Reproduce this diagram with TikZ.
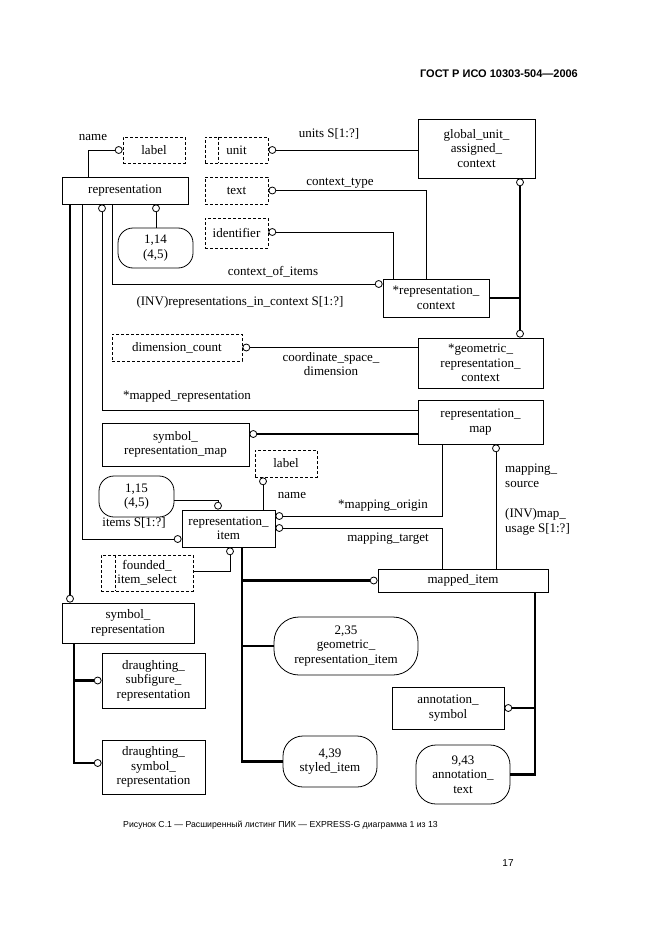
\documentclass[tikz,border=0pt]{standalone}
\usepackage{fontspec}
\setmainfont{Liberation Serif}
\newfontfamily\sansf{Liberation Sans}
\newcommand\dfont{\fontsize{13}{14.5}\selectfont}
\begin{document}
\begin{tikzpicture}[x=1pt,y=-1pt,
  tl/.style={line width=0.8pt},
  tk/.style={line width=2.4pt},
  dsh/.style={line width=0.8pt,dash pattern=on 3pt off 2pt},
  ent/.style={draw,line width=0.8pt,inner sep=0pt,align=center,font=\dfont},
  dent/.style={ent,dash pattern=on 3pt off 2pt},
  rent/.style={ent,rounded corners=#1},
  oc/.style={circle,draw,fill=white,line width=0.8pt,inner sep=0pt,minimum size=7pt},
  lab/.style={font=\dfont,inner sep=0pt,align=center}]
\fill[white] (0,0) rectangle (661,936);
\useasboundingbox (0,0) rectangle (661,936);

% entities
\node[dent,minimum width=62pt,minimum height=26pt] (lab1) at (154,150) {label};
\node[ent,minimum width=126pt,minimum height=27pt] (rep) at (125,190.5) {representation};
\node[dent,minimum width=63pt,minimum height=26pt] (unit) at (236.5,150) {unit};
\draw[dsh] (218,0 |- unit.north) -- (218,0 |- unit.south);
\node[dent,minimum width=63pt,minimum height=27pt] (txt) at (236.5,190.5) {text};
\node[dent,minimum width=63pt,minimum height=30pt] (ident) at (236.5,233) {identifier};
\node[ent,minimum width=117pt,minimum height=59pt] (gua) at (476.5,148.5) {global\_unit\_\\assigned\_\\context};
\node[rent=15pt,minimum width=75pt,minimum height=40pt] (r14) at (155.5,248) {1,14\\(4,5)};
\node[ent,minimum width=106pt,minimum height=38pt] (rctx) at (436,298) {*representation\_\\context};
\node[dent,minimum width=130pt,minimum height=27pt] (dimc) at (177,347.5) {dimension\_count};
\node[ent,minimum width=125pt,minimum height=50pt] (gctx) at (480.5,363) {*geometric\_\\representation\_\\context};
\node[ent,minimum width=125pt,minimum height=44pt] (rmap) at (480.5,422) {representation\_\\map};
\node[ent,minimum width=147pt,minimum height=43pt] (srm) at (175.5,444.5) {symbol\_\\representation\_map};
\node[dent,minimum width=62pt,minimum height=27pt] (lab2) at (286,463.5) {label};
\node[rent=15pt,minimum width=75pt,minimum height=41pt] (r15) at (136.5,496.5) {1,15\\(4,5)};
\node[ent,minimum width=93pt,minimum height=37pt] (ritem) at (228.5,528.5) {representation\_\\item};
\node[dent,minimum width=92pt,minimum height=36pt] (fis) at (147,573) {founded\_\\item\_select};
\draw[dsh] (115,0 |- fis.north) -- (115,0 |- fis.south);
\node[ent,minimum width=170pt,minimum height=23pt] (mitem) at (463,580.5) {mapped\_item};
\node[rent=25pt,minimum width=144pt,minimum height=58pt] (r235) at (346,646) {2,35\\geometric\_\\representation\_item};
\node[ent,minimum width=112pt,minimum height=42pt] (asym) at (448,708) {annotation\_\\symbol};
\node[rent=20pt,minimum width=94pt,minimum height=51pt] (r439) at (330,761.5) {4,39\\styled\_item};
\node[rent=20pt,minimum width=94pt,minimum height=59pt] (r943) at (463,774.5) {9,43\\annotation\_\\text};
\node[ent,minimum width=132pt,minimum height=40pt] (srep) at (128,623) {symbol\_\\representation};
\node[ent,minimum width=103pt,minimum height=55pt] (dsub) at (153.5,680.5) {draughting\_\\subfigure\_\\representation};
\node[ent,minimum width=103pt,minimum height=54pt] (dsym) at (153.5,767) {draughting\_\\symbol\_\\representation};

% circles
\node[oc,anchor=east] (o1) at (lab1.west) {};
\node[oc,anchor=west] (o2) at (unit.east) {};
\node[oc,anchor=north] (o3) at (520,0 |- gua.south) {};
\node[oc,anchor=south] (o4) at (520,0 |- gctx.north) {};
\node[oc,anchor=west] (o5) at (txt.east) {};
\node[oc,anchor=west] (o6) at (ident.east |- 0,232) {};
\node[oc,anchor=north] (o7) at (102,0 |- rep.south) {};
\node[oc,anchor=east] (o8) at (rctx.west |- 0,284) {};
\node[oc,anchor=north] (o9) at (156,0 |- rep.south) {};
\node[oc,anchor=west] (o10) at (dimc.east) {};
\node[oc,anchor=west] (o11) at (srm.east |- 0,434) {};
\node[oc,anchor=north] (o12) at (496,0 |- rmap.south) {};
\node[oc,anchor=west] (o13) at (ritem.east |- 0,516) {};
\node[oc,anchor=west] (o14) at (ritem.east |- 0,528) {};
\node[oc,anchor=north] (o15) at (263,0 |- lab2.south) {};
\node[oc,anchor=south] (o16) at (218,0 |- ritem.north) {};
\node[oc,anchor=east] (o17) at (ritem.west |- 0,539) {};
\node[oc,anchor=north] (o18) at (230,0 |- ritem.south) {};
\node[oc,anchor=east] (o19) at (mitem.west) {};
\node[oc,anchor=west] (o20) at (asym.east) {};
\node[oc,anchor=south] (o21) at (70,0 |- srep.north) {};
\node[oc,anchor=east] (o22) at (dsub.west) {};
\node[oc,anchor=east] (o23) at (dsym.west |- 0,763) {};

% connectors
\draw[tl] (o1.west) -| (88,0 |- rep.north);
\draw[tl] (o2.east) -- (gua.west |- o2.east);
\draw[tk] (o3.south) -- (o4.north);
\draw[tk] (rctx.east) -- (520,0 |- rctx.east);
\draw[tl] (o5.east) -| (426,0 |- rctx.north);
\draw[tl] (o6.east) -| (393,0 |- rctx.north);
\draw[tl] (82,0 |- rep.south) |- (o17.west);
\draw[tl] (o7.south) |- (rmap.west |- 0,410);
\draw[tl] (112,0 |- rep.south) |- (o8.west);
\draw[tl] (o9.south) -- (o9.south |- r14.north);
\draw[tl] (o10.east) -- (gctx.west |- o10.east);
\draw[tk] (o11.east) -- (rmap.west |- o11.east);
\draw[tl] (o12.south) -- (o12.south |- mitem.north);
\draw[tl] (442,0 |- rmap.south) |- (o13.east);
\draw[tl] (o14.east) -| (442,0 |- mitem.north);
\draw[tl] (o15.south) -- (o15.south |- ritem.north);
\draw[tl] (r15.east |- 0,500) -| (o16.north);
\draw[tl] (o18.south) |- (fis.east |- 0,571);
\draw[tk] (242,0 |- ritem.south) |- (r439.west);
\draw[tk] (242,0 |- o19.west) -- (o19.west);
\draw[tk] (242,0 |- r235.west) -- (r235.west);
\draw[tk] (535,0 |- mitem.south) |- (r943.east);
\draw[tk] (535,0 |- o20.east) -- (o20.east);
\draw[tk] (o21.north |- rep.south) -- (o21.north);
\draw[tk] (74,0 |- srep.south) |- (o23.west);
\draw[tk] (74,0 |- o22.west) -- (o22.west);

% labels
\node[lab] (l1) at (93,138) {name};
\node[lab] (l2) at (329,134) {units S[1:?]};
\node[lab] (l3) at (340,183) {context\_type};
\node[lab] (l4) at (273,272) {context\_of\_items};
\node[lab] (l5) at (240,302) {(INV)representations\_in\_context S[1:?]};
\node[lab] (l6) at (331,364) {coordinate\_space\_\\dimension};
\node[lab] (l7) at (187,396) {*mapped\_representation};
\node[lab] (l8) at (292,495) {name};
\node[lab] (l9) at (134,523) {items S[1:?]};
\node[lab] (l10) at (383,506) {*mapping\_origin};
\node[lab] (l11) at (388,539) {mapping\_target};
\node[lab,anchor=west,align=left] (l12) at (505,476) {mapping\_\\source};
\node[lab,anchor=west,align=left] (l13) at (505,522) {(INV)map\_\\usage S[1:?]};

% page texts
\node[font=\sansf\bfseries\fontsize{11}{13}\selectfont,inner sep=0pt] (hdr) at (499,74) {ГОСТ Р ИСО 10303-504—2006};
\node[font=\sansf\fontsize{8.7}{11}\selectfont,inner sep=0pt] (cap) at (280.5,825) {Рисунок С.1 — Расширенный листинг ПИК — EXPRESS-G диаграмма 1 из 13};
\node[font=\sansf\fontsize{10}{12}\selectfont,inner sep=0pt] (pg) at (508,863) {17};
\end{tikzpicture}
\end{document}
